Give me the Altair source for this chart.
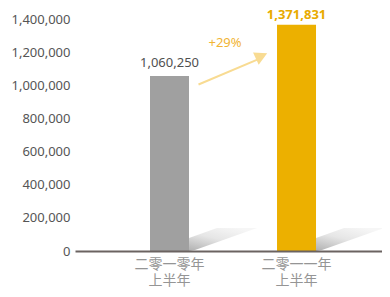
import altair as alt
import pandas as pd

categories = ["二零一零年 上半年", "二零一一年 上半年"]
values = [1060250, 1371831]
bar_colors = ["#a0a0a0", "#ecb000"]
value_labels = ["1,060,250", "1,371,831"]
y_ticks = [0, 200000, 400000, 600000, 800000, 1000000, 1200000, 1400000]
unit_title = "千港元"
growth_label = "+29%"
# arrow annotation anchor values (data units)
arrow_start = 1009000
arrow_end = 1163000
arrow_head = 1182000
growth_y = 1236000

bars_df = pd.DataFrame({"cat": categories, "value": values, "label": value_labels,
                        "color": bar_colors, "zero": [0, 0]})
arrow_df = pd.DataFrame({"cat": [categories[0]], "cat2": [categories[1]],
                         "y0": [arrow_start], "y1": [arrow_end], "yh": [arrow_head],
                         "yt": [growth_y], "txt": [growth_label]})

x_scale = alt.Scale(domain=categories, paddingInner=0.693, paddingOuter=0.555, align=0.532)
x_axis = alt.Axis(title=None, labelAngle=0, labelExpr="split(datum.label, ' ')",
                  labelFont="Noto Sans CJK TC", labelFontSize=14, labelColor="#959595",
                  labelLineHeight=16, labelPadding=6, labelBaseline="top",
                  ticks=False, domain=True, domainColor="#6b6361", domainWidth=2,
                  grid=False, zindex=1)
y_scale = alt.Scale(domain=[0, 1472700], nice=False)
y_axis = alt.Axis(values=y_ticks, labelExpr="format(datum.value, ',')", domain=False,
                  ticks=False, grid=False,
                  labelPadding=5, labelFont="Noto Sans", labelFontSize=13,
                  labelColor="#555555", title=unit_title, titleAngle=0,
                  titleX=-29, titleY=-8, titleAlign="center", titleFontSize=11,
                  titleColor="#555555", titleFontWeight="normal")

def X(field):
    return alt.X(field, type="nominal", scale=x_scale, axis=x_axis, sort=categories)

def Y(field):
    return alt.Y(field, type="quantitative", scale=y_scale, axis=y_axis)

shadow_path = "M0.4875,0 L0.4875,-0.325 L1.1875,-0.575 L2.1875,-0.575 L0.6375,-0.025 Z"
shadow_grad = alt.LinearGradient(
    gradient="linear", x1=0, y1=1, x2=0.7, y2=0,
    stops=[alt.GradientStop(color="#b0b0b0", offset=0),
           alt.GradientStop(color="#e6e6e6", offset=0.55),
           alt.GradientStop(color="#f6f6f6", offset=1)])

base = alt.Chart(bars_df)

shadow = base.mark_point(shape=shadow_path, size=6400, filled=True, fill=shadow_grad,
                         opacity=1, strokeWidth=0).encode(x=X("cat"), y=Y("zero"))

bars = base.mark_bar(opacity=1).encode(
    x=X("cat"), y=Y("value"), color=alt.Color("color:N", scale=None))

label_gray = base.transform_filter(alt.datum.cat == categories[0]).mark_text(
    font="Noto Sans", fontSize=13, color="#505050", baseline="alphabetic", dy=-9.5
).encode(x=X("cat"), y=Y("value"), text="label:N")

label_gold = base.transform_filter(alt.datum.cat == categories[1]).mark_text(
    font="Noto Sans", fontSize=13, fontWeight="bold", color="#e8ab00", baseline="alphabetic", dy=-5.5
).encode(x=X("cat"), y=Y("value"), text="label:N")

arrow_base = alt.Chart(arrow_df)
arrow_line = arrow_base.mark_rule(color="#f8db92", strokeWidth=2, xOffset=29, x2Offset=-38).encode(
    x=X("cat"), x2="cat2", y=Y("y0"), y2="y1")
arrow_headm = arrow_base.mark_point(shape="M1,0 L-1,-1.07 L-1,1.07 Z", size=156, angle=335,
                                    filled=True, fill="#f8db92", opacity=1, strokeWidth=0,
                                    xOffset=-35).encode(x=X("cat2"), y=Y("yh"))
growth = arrow_base.mark_text(font="Noto Sans", fontSize=13, color="#f1b434", xOffset=55.5,
                              baseline="alphabetic").encode(x=X("cat"), y=Y("yt"), text="txt:N")

chart = alt.layer(shadow, bars, arrow_line, arrow_headm, growth, label_gray, label_gold).properties(
    width=307, height=243,
    padding={"left": 67, "top": 0, "right": 0, "bottom": 38},
    autosize=alt.AutoSizeParams(type="none")
).configure_view(stroke=None)

chart.save("out.html", embed_options={"renderer": "svg", "actions": False})
